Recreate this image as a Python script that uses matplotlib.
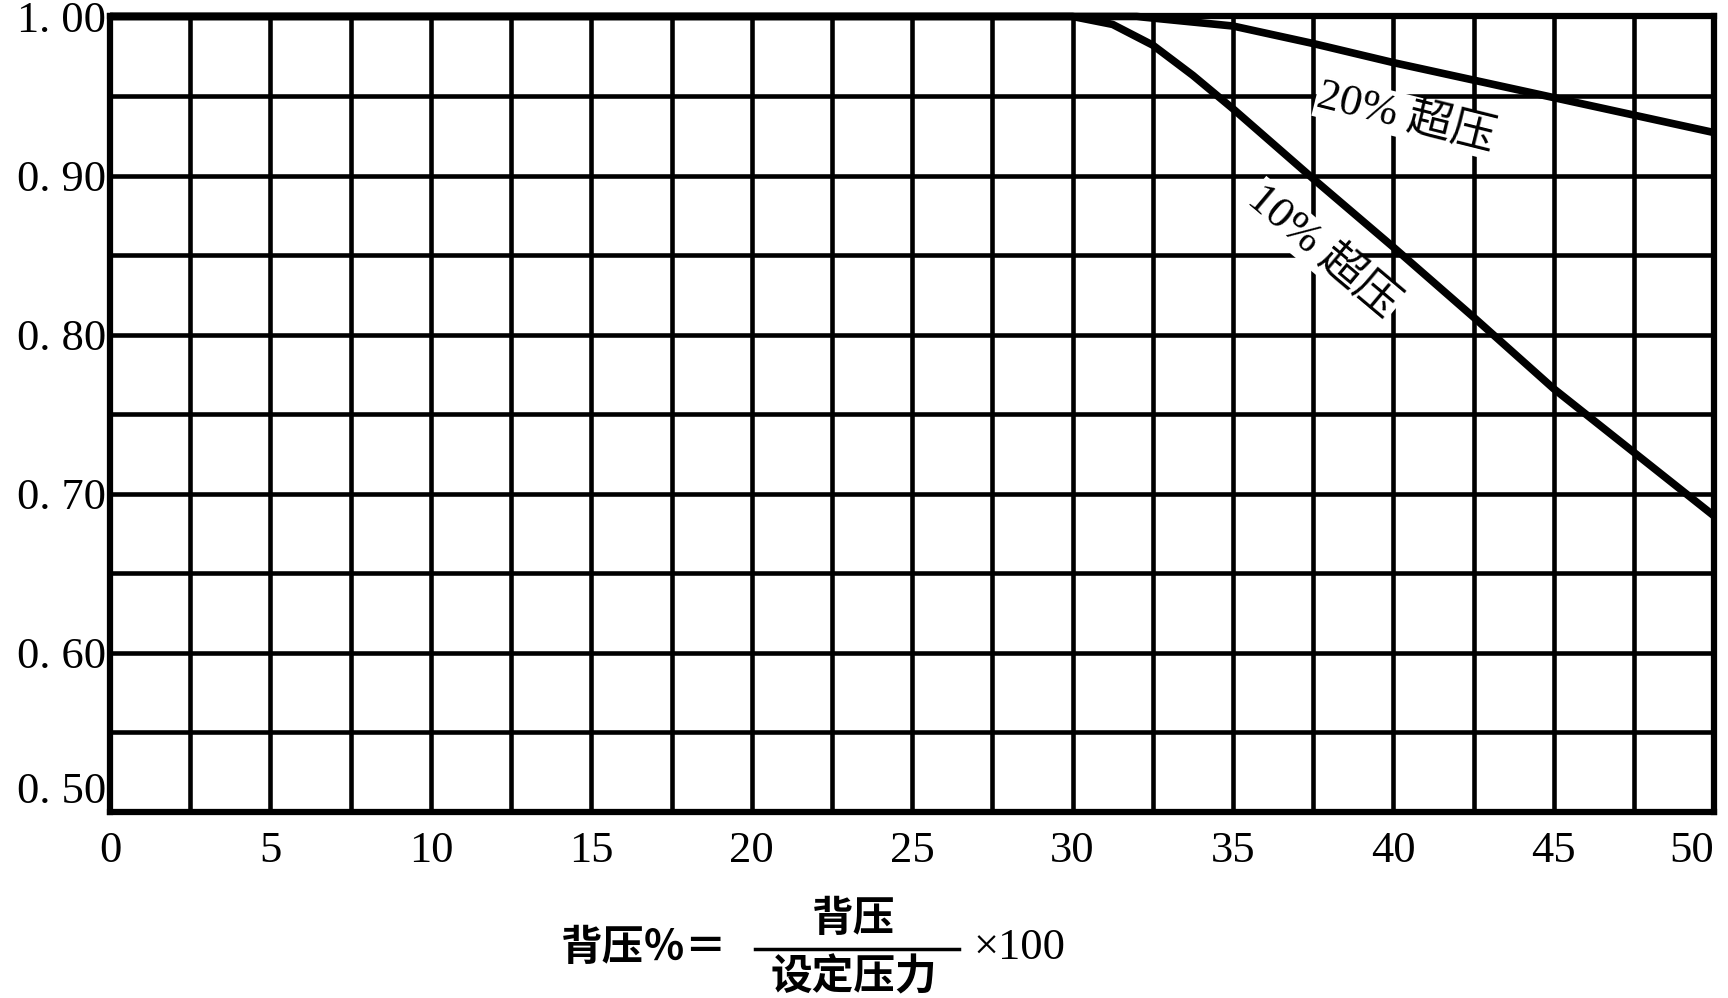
import matplotlib
matplotlib.use("Agg")
import matplotlib.pyplot as plt
from matplotlib.lines import Line2D

# ---- data ----
x_ticks = [0, 5, 10, 15, 20, 25, 30, 35, 40, 45, 50]
x_ticklabels = ["0", "5", "10", "15", "20", "25", "30", "35", "40", "45", "50"]
y_ticks = [0.50, 0.60, 0.70, 0.80, 0.90, 1.00]
y_ticklabels = ["0. 50", "0. 60", "0. 70", "0. 80", "0. 90", "1. 00"]

x_10 = [0, 30, 31.25, 32.5, 33.75, 35, 37.5, 40, 42.5, 45, 47.5, 50]
y_10 = [1.00, 1.00, 0.995, 0.982, 0.963, 0.942, 0.898, 0.855, 0.811, 0.766, 0.726, 0.686]

x_20 = [0, 32, 35, 37.5, 40, 42.5, 45, 47.5, 50]
y_20 = [1.00, 1.00, 0.994, 0.983, 0.971, 0.960, 0.949, 0.938, 0.927]

label_20 = "20% 超压"
label_10 = "10% 超压"

CJK = ["Liberation Serif", "Noto Sans CJK SC", "DejaVu Sans"]

fig = plt.figure(figsize=(17.28, 9.98), dpi=100)
ax = fig.add_axes([0.0637, 0.1864, 0.9283, 0.7971])
ax.set_xlim(0, 50)
ax.set_ylim(0.5, 1.0)

ax.set_xticks(x_ticks)
ax.set_xticklabels(x_ticklabels)
ax.set_xticks([i * 2.5 for i in range(21)], minor=True)
ax.set_yticks(y_ticks)
ax.set_yticklabels(y_ticklabels)
ax.set_yticks([0.5 + i * 0.05 for i in range(11)], minor=True)

ax.grid(which="both", color="black", linewidth=3.3)
ax.tick_params(which="both", length=0)
ax.tick_params(axis="x", pad=14, labelsize=32)
ax.tick_params(axis="y", pad=3, labelsize=32)
for lab in ax.get_xticklabels() + ax.get_yticklabels():
    lab.set_fontfamily("Liberation Serif")
ax.get_xticklabels()[-1].set_horizontalalignment("right")
ax.get_yticklabels()[0].set_verticalalignment("bottom")

for sp in ax.spines.values():
    sp.set_linewidth(4.5)
    sp.set_color("black")

ax.plot(x_10, y_10, color="black", linewidth=5.5, clip_on=False,
        solid_capstyle="butt", solid_joinstyle="round", zorder=5)
ax.plot(x_20, y_20, color="black", linewidth=5.5, clip_on=False,
        solid_capstyle="butt", solid_joinstyle="round", zorder=5)

ax.text(40.4, 0.937, label_20, rotation=-14, ha="center", va="center",
        fontsize=32, family=CJK, zorder=6,
        bbox=dict(facecolor="white", edgecolor="none", pad=1))
ax.text(37.8, 0.852, label_10, rotation=-40, ha="center", va="center",
        fontsize=32, family=CJK, zorder=6,
        bbox=dict(facecolor="white", edgecolor="none", pad=1))

# formula below the axis
fig.text(0.373, 0.05, "背压％＝", ha="center", va="center", fontsize=30,
         family=["Noto Sans CJK SC", "DejaVu Sans"], fontweight="bold")
fig.text(0.494, 0.079, "背压", ha="center", va="center", fontsize=30,
         family=["Noto Sans CJK SC"], fontweight="bold")
fig.add_artist(Line2D([0.437, 0.555], [0.049, 0.049], color="black",
                      linewidth=2.5, transform=fig.transFigure))
fig.text(0.494, 0.021, "设定压力", ha="center", va="center", fontsize=30,
         family=["Noto Sans CJK SC"], fontweight="bold")
fig.text(0.590, 0.05, "×100", ha="center", va="center", fontsize=32,
         family=["Liberation Serif", "DejaVu Sans"])

fig.savefig("out.png", dpi=100, facecolor="white")
